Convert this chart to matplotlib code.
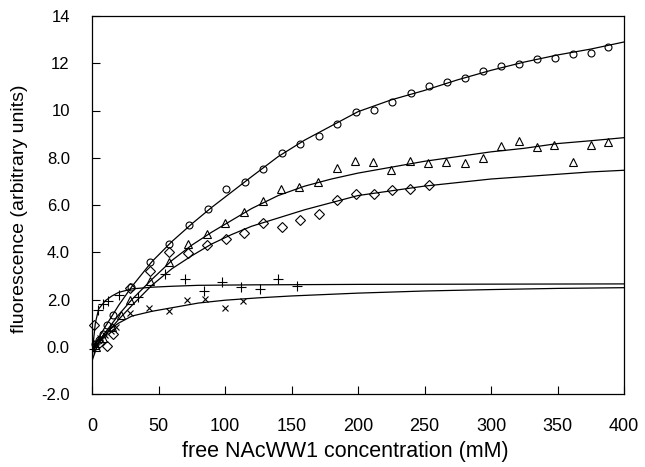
import matplotlib
matplotlib.use("Agg")
import matplotlib.pyplot as plt

# ---------------------------------------------------------------------------
# Data
# ---------------------------------------------------------------------------
circle_x = [2, 5, 8, 11, 15.5, 29.5, 43.6, 58.1, 72.9, 87.0, 100.8, 114.8, 128.8,
            142.6, 156.4, 170.7, 184.4, 198.3, 212.0, 225.8, 239.6, 253.4, 267.1,
            280.7, 293.8, 307.3, 321.3, 334.8, 348.1, 361.7, 375.2, 388.0]
circle_y = [0.1, 0.3, 0.55, 0.9, 1.36, 2.53, 3.59, 4.36, 5.17, 5.85, 6.69, 6.98, 7.54,
            8.18, 8.60, 8.93, 9.41, 9.94, 10.03, 10.37, 10.76, 11.02, 11.22,
            11.39, 11.68, 11.88, 11.95, 12.20, 12.23, 12.39, 12.42, 12.67]

tri_x = [3, 8, 15, 22, 28.8, 43.6, 57.6, 72.0, 86.2, 100.3, 114.4, 128.3, 142.4,
         155.9, 170.0, 184.0, 197.7, 211.3, 225.0, 238.8, 252.6, 266.4, 280.2,
         293.7, 307.3, 320.8, 334.3, 347.6, 361.4, 374.9, 388.2]
tri_y = [0.0, 0.35, 0.85, 1.33, 1.96, 2.77, 3.60, 4.33, 4.76, 5.23, 5.72, 6.15, 6.67,
         6.76, 6.98, 7.57, 7.87, 7.83, 7.47, 7.85, 7.78, 7.80, 7.78,
         8.0, 8.5, 8.7, 8.45, 8.52, 7.80, 8.52, 8.67]

dia_x = [1.5, 5, 11, 16, 28.6, 43.6, 58.0, 72.2, 86.6, 100.5, 114.6, 128.5, 142.6,
         156.7, 170.5, 184.4, 198.3, 212.0, 225.8, 239.3, 253.2]
dia_y = [0.94, 0.15, 0.02, 0.55, 2.49, 3.21, 4.03, 3.98, 4.30, 4.58, 4.83, 5.24, 5.05,
         5.35, 5.64, 6.20, 6.48, 6.45, 6.65, 6.69, 6.83]

plus_x = [1.5, 4.5, 8, 12, 20, 34.6, 54.7, 69.7, 84.2, 97.5, 112.2, 126.0, 140.0, 154.3]
plus_y = [-0.1, 1.57, 1.80, 1.95, 2.17, 2.12, 3.09, 2.88, 2.36, 2.73, 2.51, 2.46, 2.87, 2.57]

cross_x = [2, 6, 10, 14, 18, 28.6, 42.8, 57.9, 71.1, 85.3, 100.0, 113.8]
cross_y = [0.2, 0.35, 0.5, 0.65, 0.85, 1.42, 1.64, 1.50, 1.99, 2.03, 1.65, 1.93]

# fitted curves (traced)
fit_x = [0, 10, 20, 30, 45, 60, 75, 90, 105, 120, 140, 160, 180, 200, 225, 250,
         275, 300, 325, 350, 375, 400]
circle_fit = [-0.1, 0.85, 1.75, 2.55, 3.6, 4.45, 5.2, 5.9, 6.55, 7.2, 8.05, 8.75,
              9.35, 9.95, 10.45, 10.85, 11.3, 11.7, 12.05, 12.35, 12.6, 12.9]
tri_fit = [-0.2, 0.6, 1.35, 2.0, 2.85, 3.65, 4.3, 4.85, 5.35, 5.85, 6.4, 6.8,
           7.1, 7.35, 7.6, 7.85, 8.05, 8.25, 8.4, 8.6, 8.72, 8.85]
dia_fit = [-0.2, 0.5, 1.15, 1.75, 2.6, 3.3, 3.85, 4.35, 4.75, 5.1, 5.45, 5.8,
           6.1, 6.4, 6.6, 6.8, 6.95, 7.1, 7.2, 7.3, 7.4, 7.47]

plus_fit_x = [0, 1, 2.5, 5, 10, 15, 20, 30, 45, 60, 80, 120, 200, 300, 400]
plus_fit_y = [-0.8, 0.2, 1.0, 1.6, 1.95, 2.15, 2.3, 2.45, 2.52, 2.56, 2.6, 2.62,
              2.64, 2.65, 2.66]

cross_fit_x = [0, 5, 10, 20, 30, 45, 60, 80, 100, 125, 150, 200, 250, 300, 350, 400]
cross_fit_y = [-0.6, 0.2, 0.6, 1.0, 1.3, 1.5, 1.65, 1.85, 1.97, 2.07, 2.15, 2.27,
               2.36, 2.42, 2.47, 2.5]

y_ticks = [-2, 0, 2, 4, 6, 8, 10, 12, 14]
y_tick_labels = ["-2.0", "0.0", "2.0", "4.0", "6.0", "8.0", "10", "12", "14"]
x_ticks = [0, 50, 100, 150, 200, 250, 300, 350, 400]


def main() -> None:
    plt.rcParams.update({
        "font.family": ["Liberation Sans", "DejaVu Sans"],
        "font.size": 12,
    })

    fig = plt.figure(figsize=(6.45, 4.67), dpi=100)
    ax = fig.add_axes([92 / 645, 1 - 394 / 467, 532 / 645, 378 / 467])

    line_kw = dict(color="black", linewidth=0.9)
    ax.plot(fit_x, circle_fit, **line_kw)
    ax.plot(fit_x, tri_fit, **line_kw)
    ax.plot(fit_x, dia_fit, **line_kw)
    ax.plot(plus_fit_x, plus_fit_y, **line_kw)
    ax.plot(cross_fit_x, cross_fit_y, **line_kw)

    mk = dict(linestyle="none", markerfacecolor="none", markeredgecolor="black",
              markeredgewidth=0.8, clip_on=False)
    ax.plot(circle_x, circle_y, marker="o", markersize=5, **mk)
    ax.plot(tri_x, tri_y, marker="^", markersize=5.5, **mk)
    ax.plot(dia_x, dia_y, marker="D", markersize=5.5, **mk)
    ax.plot(plus_x, plus_y, marker="+", markersize=6.5, color="black", **mk)
    ax.plot(cross_x, cross_y, marker="x", markersize=5, color="black", **mk)

    ax.set_xlim(0, 400)
    ax.set_ylim(-2, 14)
    ax.set_xticks(x_ticks)
    ax.set_yticks(y_ticks)
    ax.set_yticklabels(y_tick_labels)
    ax.tick_params(axis="both", direction="in", length=6, width=0.8)
    ax.tick_params(axis="x", pad=17, labelsize=13)
    ax.tick_params(axis="y", pad=16, labelsize=12)
    for s in ax.spines.values():
        s.set_linewidth(0.9)

    ax.set_xlabel("free NAcWW1 concentration (mM)", fontsize=15.5)
    ax.set_ylabel("fluorescence (arbitrary units)", fontsize=14)
    ax.xaxis.set_label_coords(0.476, -0.125)
    ax.yaxis.set_label_coords(-0.12, 0.49)

    fig.savefig("out.png", dpi=100)


if __name__ == "__main__":
    main()
